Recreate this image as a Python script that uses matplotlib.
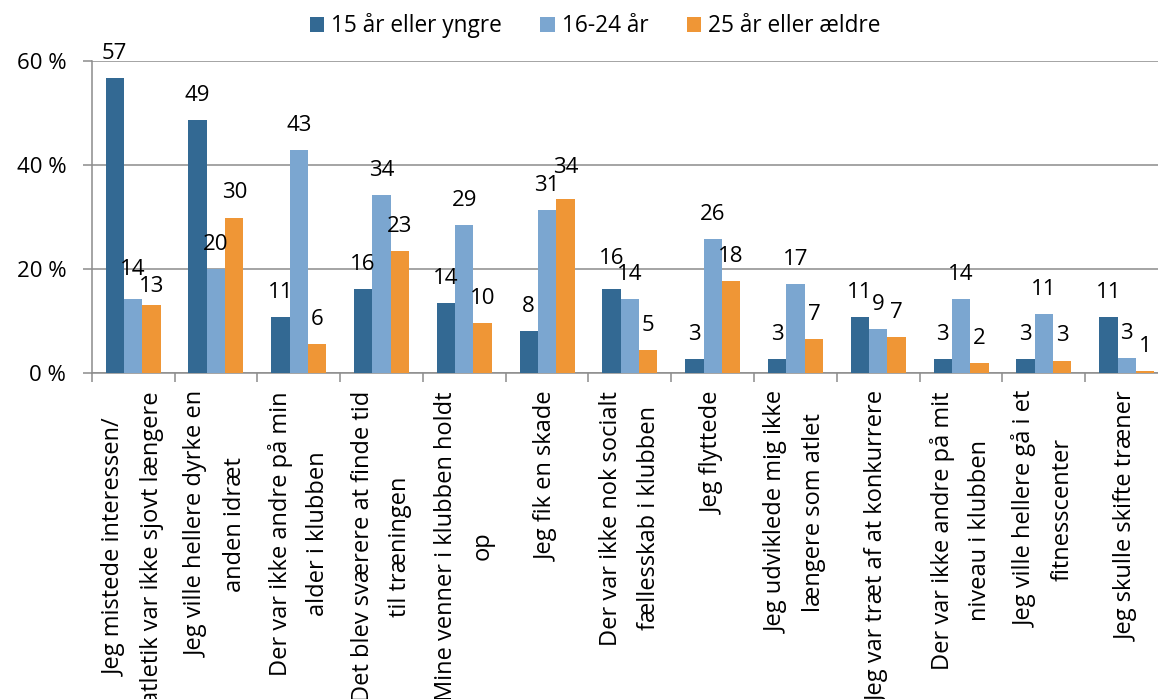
import matplotlib
matplotlib.use("Agg")
import matplotlib.pyplot as plt
import numpy as np

plt.rcParams['font.family'] = ['Open Sans', 'DejaVu Sans']

categories = [
    "Jeg mistede interessen/\natletik var ikke sjovt længere",
    "Jeg ville hellere dyrke en\nanden idræt",
    "Der var ikke andre på min\nalder i klubben",
    "Det blev sværere at finde tid\ntil træningen",
    "Mine venner i klubben holdt\nop",
    "Jeg fik en skade",
    "Der var ikke nok socialt\nfællesskab i klubben",
    "Jeg flyttede",
    "Jeg udviklede mig ikke\nlængere som atlet",
    "Jeg var træt af at konkurrere",
    "Der var ikke andre på mit\nniveau i klubben",
    "Jeg ville hellere gå i et\nfitnesscenter",
    "Jeg skulle skifte træner",
]
series_names = ["15 år eller yngre", "16-24 år", "25 år eller ældre"]

under15 = [56.8, 48.7, 10.7, 16.1, 13.4, 8.0, 16.1, 2.6, 2.6, 10.7, 2.6, 2.6, 10.7]
age16_24 = [14.2, 20.0, 42.8, 34.2, 28.5, 31.4, 14.2, 25.7, 17.1, 8.4, 14.2, 11.3, 2.8]
over25 = [13.1, 29.9, 5.5, 23.4, 9.6, 33.5, 4.5, 17.7, 6.5, 7.0, 1.9, 2.4, 0.45]

labels_under15 = [57, 49, 11, 16, 14, 8, 16, 3, 3, 11, 3, 3, 11]
labels_16_24 = [14, 20, 43, 34, 29, 31, 14, 26, 17, 9, 14, 11, 3]
labels_over25 = [13, 30, 6, 23, 10, 34, 5, 18, 7, 7, 2, 3, 1]

yticks = [0, 20, 40, 60]
ytick_labels = ["0 %", "20 %", "40 %", "60 %"]

colors = ["#336993", "#7BA6D0", "#EF9636"]
grid_color = "#8C8C8C"

fig = plt.figure(figsize=(11.58, 6.99), dpi=100)
ax = fig.add_axes([91.7 / 1158, 1 - 373 / 699, (13 * 82.8) / 1158, (373 - 61) / 699])

n = len(categories)
x = np.arange(n)
w = 0.222
all_vals = [under15, age16_24, over25]
all_labels = [labels_under15, labels_16_24, labels_over25]
# manual nudges (points) for a few overlapping labels as in the original
nudges = {(1, 0): 3.6, (2, 0): -4.3, (2, 5): 5.0, (0, 6): 4.3}

handles = []
for i, (vals, labs) in enumerate(zip(all_vals, all_labels)):
    pos = x + (i - 1) * w
    b = ax.bar(pos, vals, width=w, color=colors[i], label=series_names[i], zorder=3)
    handles.append(b)
    for j, (p, v, l) in enumerate(zip(pos, vals, labs)):
        off = 13.7 + nudges.get((i, j), 0)
        ax.annotate(str(l), (p, v), xytext=(0, off), textcoords="offset points",
                    ha="center", va="baseline", fontsize=16, color="black", zorder=4)

ax.set_xlim(-0.5, n - 0.5)
ax.set_ylim(0, 60)
ax.set_yticks(yticks)
ax.set_yticklabels(ytick_labels, fontsize=16)
ax.yaxis.grid(True, color=grid_color, linewidth=1.1, zorder=0)
ax.set_axisbelow(True)

ax.set_xticks(np.arange(-0.5, n, 1.0))
ax.set_xticklabels([])
ax.set_xticks(x, minor=True)
ax.set_xticklabels(categories, minor=True, rotation=90, ha="center", va="top",
                   fontsize=17, multialignment="center", linespacing=1.74)
ax.tick_params(axis="x", which="major", length=6.5, width=1.1, color=grid_color, direction="out")
ax.tick_params(axis="x", which="minor", length=0, pad=13)
ax.tick_params(axis="y", which="major", length=6.3, width=1.1, color=grid_color, pad=12)

for s in ["top", "right"]:
    ax.spines[s].set_visible(False)
for s in ["left", "bottom"]:
    ax.spines[s].set_color(grid_color)
    ax.spines[s].set_linewidth(1.1)

fig.legend(handles=handles, labels=series_names, loc="center", bbox_to_anchor=(0.514, 0.963),
           ncol=3, frameon=False, fontsize=16.3, handlelength=0.63, handleheight=0.63,
           handletextpad=0.32, columnspacing=1.7)

fig.savefig("out.png", dpi=100)
